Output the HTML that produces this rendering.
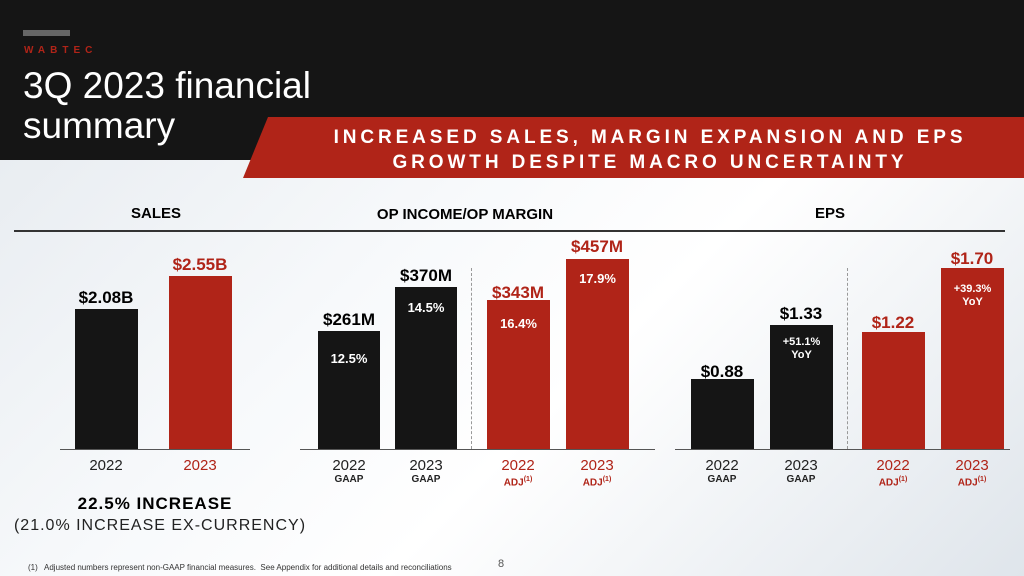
<!DOCTYPE html><html><head><style>
*{margin:0;padding:0;box-sizing:border-box}
body{width:1024px;height:576px;position:relative;overflow:hidden;font-family:"Liberation Sans",sans-serif;background:linear-gradient(135deg,#e4e9ee 0%,#f7f9fb 40%,#ffffff 60%,#dfe5eb 100%)}
.a{position:absolute}
.b{position:absolute;background:#151515}
.r{background:#b02418}
.v{position:absolute;font-weight:bold;font-size:17px;text-align:center;width:100px}
.y{position:absolute;font-size:15px;text-align:center;width:80px;color:#222;line-height:16px}
.y b{font-size:10px;display:block;line-height:12px}
.red{color:#b02418}
.in{position:absolute;color:#fff;font-weight:bold;font-size:13px;text-align:center}
</style></head><body>
<div class="a" style="left:0;top:0;width:1024px;height:160px;background:#151515"></div>
<div class="a" style="left:23px;top:30px;width:47px;height:6px;background:#666"></div>
<div class="a" style="left:24px;top:45px;color:#b02418;font-size:10px;font-weight:bold;letter-spacing:5px">WABTEC</div>
<div class="a" style="left:23px;top:66px;color:#fff;font-size:37px;line-height:40px">3Q 2023 financial<br>summary</div>
<svg class="a" style="left:0;top:0" width="1024" height="200"><polygon points="268,117 1024,117 1024,178 243,178" fill="#b02418"/></svg>
<div class="a" style="left:290px;top:125px;width:720px;text-align:center;color:#fff;font-weight:bold;font-size:19px;letter-spacing:3.9px;line-height:25px">INCREASED SALES, MARGIN EXPANSION AND EPS<br>GROWTH DESPITE MACRO UNCERTAINTY</div>
<div class="a" style="left:96px;top:205px;width:120px;text-align:center;font-weight:bold;font-size:15px">SALES</div>
<div class="a" style="left:330px;top:206px;width:270px;text-align:center;font-weight:bold;font-size:15px">OP INCOME/OP MARGIN</div>
<div class="a" style="left:790px;top:205px;width:80px;text-align:center;font-weight:bold;font-size:15px">EPS</div>
<div class="a" style="left:14px;top:230px;width:991px;height:2px;background:#333"></div>
<div class="a" style="left:60px;top:449px;width:190px;height:1px;background:#555"></div>
<div class="a" style="left:300px;top:449px;width:355px;height:1px;background:#555"></div>
<div class="a" style="left:675px;top:449px;width:335px;height:1px;background:#555"></div>
<div class="a" style="left:471px;top:268px;height:181px;border-left:1px dashed #999"></div>
<div class="a" style="left:847px;top:268px;height:181px;border-left:1px dashed #999"></div>
<div class="b" style="left:75px;top:309px;width:63px;height:140px"></div>
<div class="b r" style="left:169px;top:276px;width:63px;height:173px"></div>
<div class="b" style="left:318px;top:331px;width:62px;height:118px"></div>
<div class="b" style="left:395px;top:287px;width:62px;height:162px"></div>
<div class="b r" style="left:487px;top:300px;width:63px;height:149px"></div>
<div class="b r" style="left:566px;top:259px;width:63px;height:190px"></div>
<div class="b" style="left:691px;top:379px;width:63px;height:70px"></div>
<div class="b" style="left:770px;top:325px;width:63px;height:124px"></div>
<div class="b r" style="left:862px;top:332px;width:63px;height:117px"></div>
<div class="b r" style="left:941px;top:268px;width:63px;height:181px"></div>
<div class="v" style="left:56px;top:288px">$2.08B</div>
<div class="v red" style="left:150px;top:255px">$2.55B</div>
<div class="v" style="left:299px;top:310px">$261M</div>
<div class="v" style="left:376px;top:266px">$370M</div>
<div class="v red" style="left:468px;top:283px">$343M</div>
<div class="v red" style="left:547px;top:237px">$457M</div>
<div class="v" style="left:672px;top:362px">$0.88</div>
<div class="v" style="left:751px;top:304px">$1.33</div>
<div class="v red" style="left:843px;top:313px">$1.22</div>
<div class="v red" style="left:922px;top:249px">$1.70</div>
<div class="in" style="left:318px;top:351px;width:62px">12.5%</div>
<div class="in" style="left:395px;top:300px;width:62px">14.5%</div>
<div class="in" style="left:487px;top:316px;width:63px">16.4%</div>
<div class="in" style="left:566px;top:271px;width:63px">17.9%</div>
<div class="in" style="left:770px;top:336px;width:63px;font-size:11px;line-height:13px">+51.1%<br>YoY</div>
<div class="in" style="left:941px;top:283px;width:63px;font-size:11px;line-height:13px">+39.3%<br>YoY</div>
<div class="y" style="left:66px;top:458px">2022</div>
<div class="y red" style="left:160px;top:458px">2023</div>
<div class="y" style="left:309px;top:458px">2022<b>GAAP</b></div>
<div class="y" style="left:386px;top:458px">2023<b>GAAP</b></div>
<div class="y red" style="left:478px;top:458px">2022<b>ADJ<sup style="font-size:7px">(1)</sup></b></div>
<div class="y red" style="left:557px;top:458px">2023<b>ADJ<sup style="font-size:7px">(1)</sup></b></div>
<div class="y" style="left:682px;top:458px">2022<b>GAAP</b></div>
<div class="y" style="left:761px;top:458px">2023<b>GAAP</b></div>
<div class="y red" style="left:853px;top:458px">2022<b>ADJ<sup style="font-size:7px">(1)</sup></b></div>
<div class="y red" style="left:932px;top:458px">2023<b>ADJ<sup style="font-size:7px">(1)</sup></b></div>
<div class="a" style="left:20px;top:494px;width:270px;text-align:center;font-weight:bold;font-size:17px;letter-spacing:1px">22.5% INCREASE</div>
<div class="a" style="left:10px;top:517px;width:300px;text-align:center;font-size:16px;letter-spacing:1px;color:#222">(21.0% INCREASE EX-CURRENCY)</div>
<div class="a" style="left:28px;top:563px;font-size:8px;color:#333">(1)&nbsp;&nbsp; Adjusted numbers represent non-GAAP financial measures.&nbsp; See Appendix for additional details and reconciliations</div>
<div class="a" style="left:498px;top:558px;font-size:11px;color:#555">8</div>
</body></html>
